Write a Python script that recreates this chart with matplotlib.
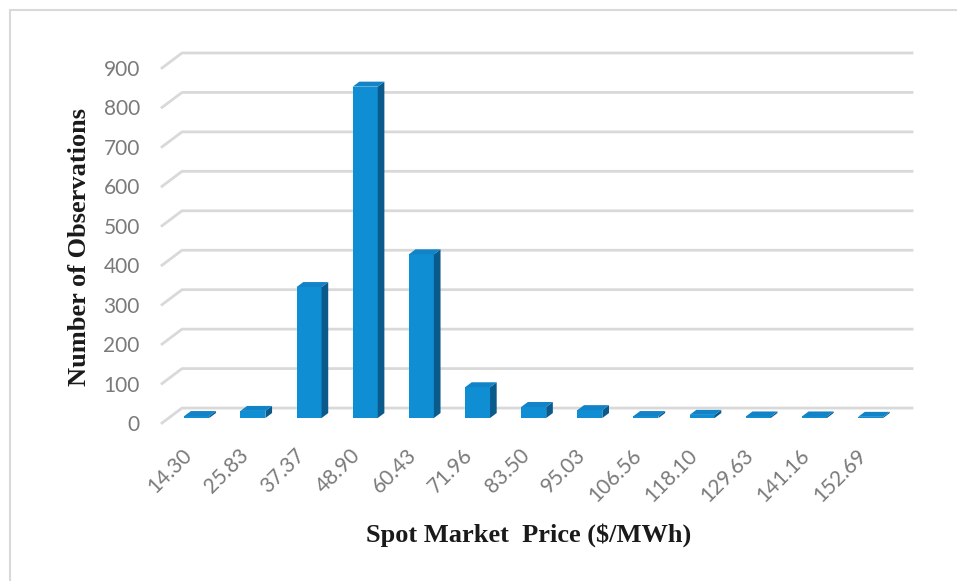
import numpy as np
import matplotlib.pyplot as plt
import matplotlib.transforms as mtransforms
from matplotlib.patches import Polygon, Rectangle

# price bins and counts
prices = ['14.30', '25.83', '37.37', '48.90', '60.43', '71.96', '83.50',
          '95.03', '106.56', '118.10', '129.63', '141.16', '152.69']
counts = [5, 18, 332, 840, 415, 78, 28, 20, 5, 8, 4, 4, 3]
yticks = list(range(0, 1000, 100))

# fake 3d: depth of the floor in data units, bars sit in the middle third
DX = 0.356
DY = 38.0
T1, T2 = 1 / 3, 2 / 3
W = 0.445

FRONT = '#0f8ed4'
SIDE = '#0a5a8c'
TOP = '#1283c6'
GRID = '#d9d9d9'
TICK = '#7a7a7a'


def main():
    fig = plt.figure(figsize=(9.57, 5.81), dpi=100)
    ax = fig.add_axes([0.1693, 0.2719, 0.7628, 0.6111])
    ax.set_facecolor('none')
    n = len(prices)
    ax.set_xlim(-0.5, n - 0.5)
    ax.set_ylim(0, 900)

    # frame around the chart area
    fig.patches.append(Rectangle((10 / 957, -0.05), 1.1, 1 - 10 / 581 + 0.05,
                                 transform=fig.transFigure, fill=False,
                                 edgecolor='#d9d9d9', linewidth=1.5))

    # back wall gridlines with the diagonal on the left side
    for v in yticks:
        ax.plot([-0.5, -0.5 + DX, n - 0.5 + DX], [v, v + DY, v + DY],
                color=GRID, linewidth=2, clip_on=False, zorder=1)

    x = np.arange(n)
    ax.bar(x + T1 * DX, counts, width=W, bottom=T1 * DY, color=FRONT,
           zorder=3)
    for xi, v in zip(x, counts):
        l = xi - W / 2
        r = xi + W / 2
        side = [(r + T1 * DX, T1 * DY), (r + T2 * DX, T2 * DY),
                (r + T2 * DX, v + T2 * DY), (r + T1 * DX, v + T1 * DY)]
        top = [(l + T1 * DX, v + T1 * DY), (r + T1 * DX, v + T1 * DY),
               (r + T2 * DX, v + T2 * DY), (l + T2 * DX, v + T2 * DY)]
        ax.add_patch(Polygon(side, closed=True, facecolor=SIDE,
                             edgecolor='none', zorder=3, clip_on=False))
        ax.add_patch(Polygon(top, closed=True, facecolor=TOP,
                             edgecolor='none', zorder=3, clip_on=False))

    ax.set_yticks(yticks)
    ax.set_yticklabels([str(v) for v in yticks], fontsize=15,
                       family='Lato', color=TICK)
    ax.set_xticks(x)
    ax.set_xticklabels(prices, fontsize=15, family='Lato', color=TICK,
                       rotation=45, ha='right')
    ax.tick_params(axis='y', length=0, pad=16)
    ax.tick_params(axis='x', length=0, pad=16)
    # nudge the slanted labels a little to the right
    shift = mtransforms.ScaledTranslation(0.06, 0, fig.dpi_scale_trans)
    for lab in ax.get_xticklabels():
        lab.set_transform(lab.get_transform() + shift)
    for s in ax.spines.values():
        s.set_visible(False)

    fig.text(80 / 957, 1 - 247 / 581, 'Number of Observations', rotation=90,
             ha='center', va='center', fontsize=19, fontweight='bold',
             family='Liberation Serif', color='#1a1a1a')
    fig.text(529 / 957, 1 - 535 / 581, 'Spot Market  Price ($/MWh)',
             ha='center', va='center', fontsize=19, fontweight='bold',
             family='Liberation Serif', color='#1a1a1a')

    fig.savefig('out.png', dpi=100, facecolor='white')
    plt.close(fig)


if __name__ == "__main__":
    main()
